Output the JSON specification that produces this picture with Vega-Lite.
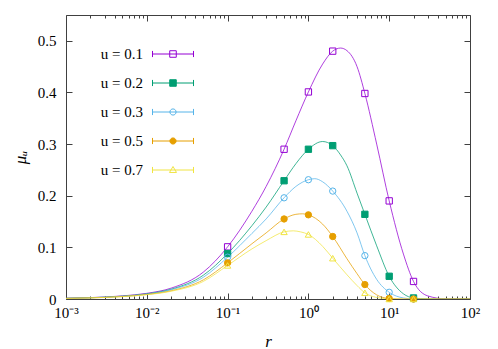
{
  "$schema": "https://vega.github.io/schema/vega-lite/v6.json",
  "width": 404,
  "height": 284,
  "autosize": "none",
  "padding": {"left": 66, "top": 15, "right": 28, "bottom": 50},
  "background": "white",
  "config": {
    "view": {"stroke": "#404040", "strokeWidth": 1},
    "font": "Liberation Serif",
    "axis": {"domain": false, "grid": false, "tickColor": "#404040", "labelFont": "Liberation Serif", "labelFontSize": 15, "labelColor": "#000", "titleFont": "Liberation Serif", "titleFontSize": 17, "titleFontWeight": "normal", "titleColor": "#000", "labelOverlap": false, "labelFlush": false}
  },
  "datasets": {
    "curves": [
      {"u": "0.1", "r": 0.001, "mu": 0.0015}, {"u": "0.1", "r": 0.002, "mu": 0.0027}, {"u": "0.1", "r": 0.005, "mu": 0.006}, {"u": "0.1", "r": 0.01, "mu": 0.011}, {"u": "0.1", "r": 0.02, "mu": 0.021}, {"u": "0.1", "r": 0.05, "mu": 0.052}, {"u": "0.1", "r": 0.1, "mu": 0.101}, {"u": "0.1", "r": 0.2, "mu": 0.17}, {"u": "0.1", "r": 0.3, "mu": 0.218}, {"u": "0.1", "r": 0.5, "mu": 0.29}, {"u": "0.1", "r": 0.7, "mu": 0.345}, {"u": "0.1", "r": 1, "mu": 0.401}, {"u": "0.1", "r": 1.5, "mu": 0.455}, {"u": "0.1", "r": 2, "mu": 0.48}, {"u": "0.1", "r": 2.5, "mu": 0.486}, {"u": "0.1", "r": 3, "mu": 0.481}, {"u": "0.1", "r": 4, "mu": 0.45}, {"u": "0.1", "r": 5, "mu": 0.398}, {"u": "0.1", "r": 7, "mu": 0.3}, {"u": "0.1", "r": 10, "mu": 0.19}, {"u": "0.1", "r": 15, "mu": 0.087}, {"u": "0.1", "r": 20, "mu": 0.034}, {"u": "0.1", "r": 30, "mu": 0.006}, {"u": "0.1", "r": 50, "mu": 0.0003}, {"u": "0.1", "r": 100, "mu": 0},
      {"u": "0.2", "r": 0.001, "mu": 0.0014}, {"u": "0.2", "r": 0.002, "mu": 0.0025}, {"u": "0.2", "r": 0.005, "mu": 0.0055}, {"u": "0.2", "r": 0.01, "mu": 0.01}, {"u": "0.2", "r": 0.02, "mu": 0.019}, {"u": "0.2", "r": 0.05, "mu": 0.046}, {"u": "0.2", "r": 0.1, "mu": 0.088}, {"u": "0.2", "r": 0.2, "mu": 0.142}, {"u": "0.2", "r": 0.3, "mu": 0.178}, {"u": "0.2", "r": 0.5, "mu": 0.229}, {"u": "0.2", "r": 0.7, "mu": 0.262}, {"u": "0.2", "r": 1, "mu": 0.29}, {"u": "0.2", "r": 1.5, "mu": 0.305}, {"u": "0.2", "r": 2, "mu": 0.297}, {"u": "0.2", "r": 2.5, "mu": 0.279}, {"u": "0.2", "r": 3, "mu": 0.258}, {"u": "0.2", "r": 4, "mu": 0.205}, {"u": "0.2", "r": 5, "mu": 0.164}, {"u": "0.2", "r": 7, "mu": 0.103}, {"u": "0.2", "r": 10, "mu": 0.044}, {"u": "0.2", "r": 15, "mu": 0.01}, {"u": "0.2", "r": 20, "mu": 0.002}, {"u": "0.2", "r": 30, "mu": 0.0001}, {"u": "0.2", "r": 50, "mu": 0}, {"u": "0.2", "r": 100, "mu": 0},
      {"u": "0.3", "r": 0.001, "mu": 0.0013}, {"u": "0.3", "r": 0.002, "mu": 0.0024}, {"u": "0.3", "r": 0.005, "mu": 0.0052}, {"u": "0.3", "r": 0.01, "mu": 0.0095}, {"u": "0.3", "r": 0.02, "mu": 0.018}, {"u": "0.3", "r": 0.05, "mu": 0.042}, {"u": "0.3", "r": 0.1, "mu": 0.081}, {"u": "0.3", "r": 0.2, "mu": 0.127}, {"u": "0.3", "r": 0.3, "mu": 0.155}, {"u": "0.3", "r": 0.5, "mu": 0.196}, {"u": "0.3", "r": 0.7, "mu": 0.218}, {"u": "0.3", "r": 1, "mu": 0.231}, {"u": "0.3", "r": 1.2, "mu": 0.233}, {"u": "0.3", "r": 1.5, "mu": 0.227}, {"u": "0.3", "r": 2, "mu": 0.209}, {"u": "0.3", "r": 3, "mu": 0.17}, {"u": "0.3", "r": 4, "mu": 0.128}, {"u": "0.3", "r": 5, "mu": 0.084}, {"u": "0.3", "r": 7, "mu": 0.038}, {"u": "0.3", "r": 10, "mu": 0.013}, {"u": "0.3", "r": 15, "mu": 0.002}, {"u": "0.3", "r": 20, "mu": 0.0002}, {"u": "0.3", "r": 30, "mu": 0}, {"u": "0.3", "r": 100, "mu": 0},
      {"u": "0.5", "r": 0.001, "mu": 0.0012}, {"u": "0.5", "r": 0.002, "mu": 0.0022}, {"u": "0.5", "r": 0.005, "mu": 0.0048}, {"u": "0.5", "r": 0.01, "mu": 0.0088}, {"u": "0.5", "r": 0.02, "mu": 0.016}, {"u": "0.5", "r": 0.05, "mu": 0.037}, {"u": "0.5", "r": 0.1, "mu": 0.07}, {"u": "0.5", "r": 0.2, "mu": 0.107}, {"u": "0.5", "r": 0.3, "mu": 0.128}, {"u": "0.5", "r": 0.5, "mu": 0.155}, {"u": "0.5", "r": 0.7, "mu": 0.164}, {"u": "0.5", "r": 0.85, "mu": 0.165}, {"u": "0.5", "r": 1, "mu": 0.163}, {"u": "0.5", "r": 1.5, "mu": 0.145}, {"u": "0.5", "r": 2, "mu": 0.121}, {"u": "0.5", "r": 3, "mu": 0.078}, {"u": "0.5", "r": 4, "mu": 0.049}, {"u": "0.5", "r": 5, "mu": 0.028}, {"u": "0.5", "r": 7, "mu": 0.008}, {"u": "0.5", "r": 10, "mu": 0.001}, {"u": "0.5", "r": 15, "mu": 0}, {"u": "0.5", "r": 100, "mu": 0},
      {"u": "0.7", "r": 0.001, "mu": 0.0011}, {"u": "0.7", "r": 0.002, "mu": 0.0021}, {"u": "0.7", "r": 0.005, "mu": 0.0046}, {"u": "0.7", "r": 0.01, "mu": 0.0083}, {"u": "0.7", "r": 0.02, "mu": 0.015}, {"u": "0.7", "r": 0.05, "mu": 0.034}, {"u": "0.7", "r": 0.1, "mu": 0.065}, {"u": "0.7", "r": 0.2, "mu": 0.097}, {"u": "0.7", "r": 0.3, "mu": 0.113}, {"u": "0.7", "r": 0.5, "mu": 0.13}, {"u": "0.7", "r": 0.65, "mu": 0.132}, {"u": "0.7", "r": 0.8, "mu": 0.13}, {"u": "0.7", "r": 1, "mu": 0.125}, {"u": "0.7", "r": 1.5, "mu": 0.102}, {"u": "0.7", "r": 2, "mu": 0.079}, {"u": "0.7", "r": 3, "mu": 0.047}, {"u": "0.7", "r": 4, "mu": 0.026}, {"u": "0.7", "r": 5, "mu": 0.012}, {"u": "0.7", "r": 7, "mu": 0.003}, {"u": "0.7", "r": 10, "mu": 0.0003}, {"u": "0.7", "r": 15, "mu": 0}, {"u": "0.7", "r": 100, "mu": 0}
    ],
    "pts": [
      {"u": "0.1", "r": 0.1, "mu": 0.101}, {"u": "0.1", "r": 0.5, "mu": 0.29}, {"u": "0.1", "r": 1, "mu": 0.401}, {"u": "0.1", "r": 2, "mu": 0.48}, {"u": "0.1", "r": 5, "mu": 0.398}, {"u": "0.1", "r": 10, "mu": 0.19}, {"u": "0.1", "r": 20, "mu": 0.034},
      {"u": "0.2", "r": 0.1, "mu": 0.088}, {"u": "0.2", "r": 0.5, "mu": 0.229}, {"u": "0.2", "r": 1, "mu": 0.29}, {"u": "0.2", "r": 2, "mu": 0.297}, {"u": "0.2", "r": 5, "mu": 0.164}, {"u": "0.2", "r": 10, "mu": 0.044}, {"u": "0.2", "r": 20, "mu": 0.002},
      {"u": "0.3", "r": 0.1, "mu": 0.081}, {"u": "0.3", "r": 0.5, "mu": 0.196}, {"u": "0.3", "r": 1, "mu": 0.231}, {"u": "0.3", "r": 2, "mu": 0.209}, {"u": "0.3", "r": 5, "mu": 0.084}, {"u": "0.3", "r": 10, "mu": 0.013}, {"u": "0.3", "r": 20, "mu": 0.0},
      {"u": "0.5", "r": 0.1, "mu": 0.07}, {"u": "0.5", "r": 0.5, "mu": 0.155}, {"u": "0.5", "r": 1, "mu": 0.163}, {"u": "0.5", "r": 2, "mu": 0.121}, {"u": "0.5", "r": 5, "mu": 0.028}, {"u": "0.5", "r": 10, "mu": 0.001}, {"u": "0.5", "r": 20, "mu": 0.0},
      {"u": "0.7", "r": 0.1, "mu": 0.065}, {"u": "0.7", "r": 0.5, "mu": 0.13}, {"u": "0.7", "r": 1, "mu": 0.125}, {"u": "0.7", "r": 2, "mu": 0.079}, {"u": "0.7", "r": 5, "mu": 0.012}, {"u": "0.7", "r": 10, "mu": 0.0}, {"u": "0.7", "r": 20, "mu": 0.0}
    ]
  },
  "resolve": {
    "axis": {"x": "independent", "y": "independent"},
    "scale": {"shape": "independent", "stroke": "independent", "fill": "independent"},
    "legend": {"shape": "independent", "stroke": "independent", "fill": "independent"}
  },
  "layer": [
    {
      "data": {"name": "curves"},
      "mark": {"type": "line", "interpolate": "monotone", "strokeWidth": 1, "opacity": 0.75, "clip": true},
      "encoding": {
        "x": {"field": "r", "type": "quantitative",
          "scale": {"type": "log", "domain": [0.001, 100], "nice": false},
          "axis": {"orient": "bottom", "title": "r", "titleFontStyle": "italic", "titlePadding": 10,
            "values": [0.001,0.002,0.003,0.004,0.005,0.006,0.007,0.008,0.009,0.01,0.02,0.03,0.04,0.05,0.06,0.07,0.08,0.09,0.1,0.2,0.3,0.4,0.5,0.6,0.7,0.8,0.9,1,2,3,4,5,6,7,8,9,10,20,30,40,50,60,70,80,90,100],
            "tickSize": {"condition": {"test": "abs(log(datum.value)/LN10 - round(log(datum.value)/LN10)) < 0.000001", "value": -6}, "value": -3},
            "labelPadding": 12,
            "labelExpr": "abs(log(datum.value)/LN10 - round(log(datum.value)/LN10)) < 0.000001 ? '10' + ['⁻³','⁻²','⁻¹','⁰','¹','²'][round(log(datum.value)/LN10)+3] : ''"}},
        "y": {"field": "mu", "type": "quantitative",
          "scale": {"domain": [0, 0.55], "nice": false, "zero": true},
          "axis": {"orient": "left", "title": "μᵤ", "titleFontStyle": "italic", "titlePadding": 8, "values": [0, 0.1, 0.2, 0.3, 0.4, 0.5], "format": "~g", "tickSize": -6, "labelPadding": 16}},
        "color": {"field": "u", "type": "nominal", "legend": null,
          "scale": {"domain": ["0.1","0.2","0.3","0.5","0.7"], "range": ["#9400D3","#009E73","#56B4E9","#E69F00","#F0E442"]}},
        "detail": {"field": "u"}
      }
    },
    {
      "data": {"name": "pts"},
      "mark": {"type": "point", "strokeWidth": 1, "size": 40, "opacity": 1},
      "encoding": {
        "x": {"field": "r", "type": "quantitative",
          "axis": {"orient": "top", "title": null, "labels": false,
            "values": [0.001,0.002,0.003,0.004,0.005,0.006,0.007,0.008,0.009,0.01,0.02,0.03,0.04,0.05,0.06,0.07,0.08,0.09,0.1,0.2,0.3,0.4,0.5,0.6,0.7,0.8,0.9,1,2,3,4,5,6,7,8,9,10,20,30,40,50,60,70,80,90,100],
            "tickSize": {"condition": {"test": "abs(log(datum.value)/LN10 - round(log(datum.value)/LN10)) < 0.000001", "value": -6}, "value": -3}}},
        "y": {"field": "mu", "type": "quantitative",
          "axis": {"orient": "right", "title": null, "labels": false, "values": [0, 0.1, 0.2, 0.3, 0.4, 0.5], "tickSize": -6}},
        "stroke": {"field": "u", "type": "nominal", "legend": null,
          "scale": {"domain": ["0.1","0.2","0.3","0.5","0.7"], "range": ["#9400D3","#009E73","#56B4E9","#E69F00","#F0E442"]}},
        "fill": {"field": "u", "type": "nominal", "legend": null,
          "scale": {"domain": ["0.1","0.2","0.3","0.5","0.7"], "range": ["transparent","#009E73","transparent","#E69F00","transparent"]}},
        "shape": {"field": "u", "type": "nominal", "legend": null,
          "scale": {"domain": ["0.1","0.2","0.3","0.5","0.7"], "range": ["square","square","circle","circle","triangle-up"]}}
      }
    },
    {
      "data": {"name": "pts"},
      "transform": [{"filter": "false"}],
      "mark": {"type": "point", "strokeWidth": 1, "opacity": 1},
      "encoding": {
        "stroke": {"field": "u", "type": "nominal",
          "scale": {"domain": ["0.1","0.2","0.3","0.5","0.7"], "range": ["#9400D3","#009E73","#56B4E9","#E69F00","#F0E442"]},
          "legend": {
            "orient": "none", "legendX": 86, "legendY": 18, "title": null,
            "symbolSize": 1681, "symbolStrokeWidth": 1, "symbolOpacity": 1, "rowPadding": -1.5,
            "labelFont": "Liberation Serif", "labelFontSize": 15, "labelColor": "#000",
            "labelAlign": "right", "labelOffset": -51,
            "labelExpr": "'u = ' + datum.label"}},
        "fill": {"field": "u", "type": "nominal",
          "scale": {"domain": ["0.1","0.2","0.3","0.5","0.7"], "range": ["transparent","#009E73","transparent","#E69F00","transparent"]}},
        "shape": {"field": "u", "type": "nominal",
          "scale": {"domain": ["0.1","0.2","0.3","0.5","0.7"], "range": [
            "M-1,0H1M-1,-0.15V0.15M1,-0.15V0.15M-0.16,-0.16H0.16V0.16H-0.16Z",
            "M-1,0H1M-1,-0.15V0.15M1,-0.15V0.15M-0.16,-0.16H0.16V0.16H-0.16Z",
            "M-1,0H1M-1,-0.15V0.15M1,-0.15V0.15M-0.15,0A0.15,0.15,0,1,0,0.15,0A0.15,0.15,0,1,0,-0.15,0Z",
            "M-1,0H1M-1,-0.15V0.15M1,-0.15V0.15M-0.15,0A0.15,0.15,0,1,0,0.15,0A0.15,0.15,0,1,0,-0.15,0Z",
            "M-1,0H1M-1,-0.15V0.15M1,-0.15V0.15M0,-0.17L0.17,0.12L-0.17,0.12Z"]}}
      }
    }
  ]
}
